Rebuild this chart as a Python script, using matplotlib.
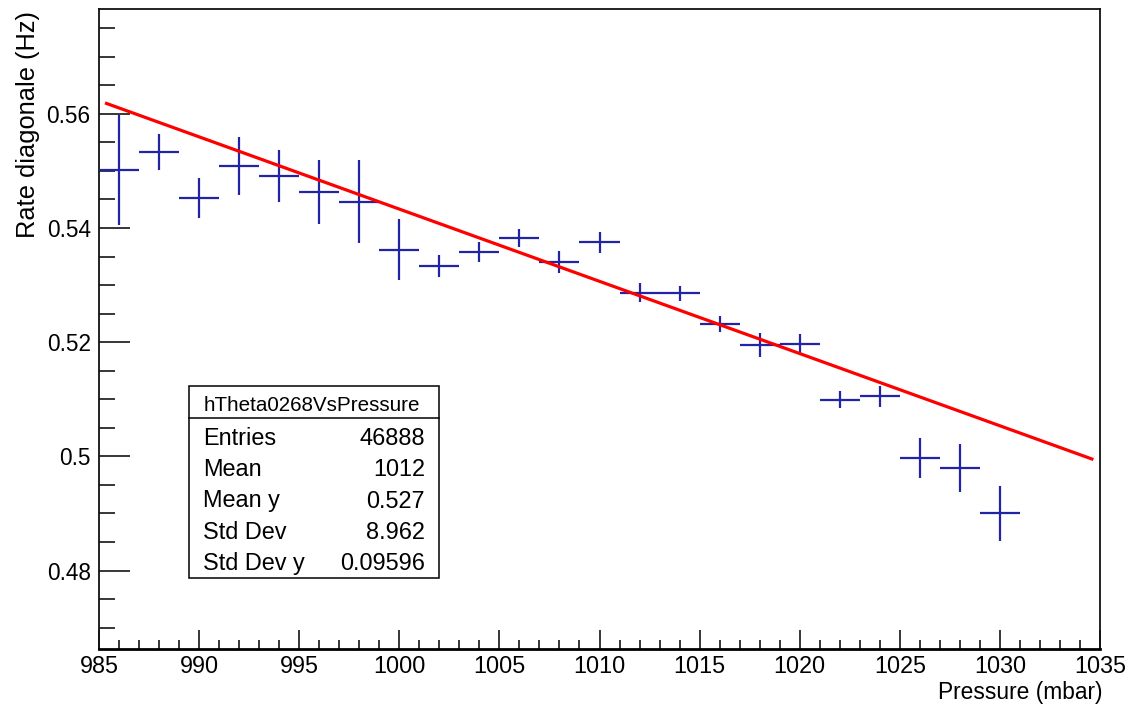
import matplotlib
matplotlib.use("Agg")
import matplotlib.pyplot as plt
import matplotlib.patches as mpatches
from matplotlib import font_manager
from matplotlib.ticker import MultipleLocator, FixedLocator
import numpy as np

# ---------------- data ----------------
pressure = [986, 988, 990, 992, 994, 996, 998, 1000, 1002, 1004, 1006, 1008,
            1010, 1012, 1014, 1016, 1018, 1020, 1022, 1024, 1026, 1028, 1030]
rate = [0.5501, 0.5533, 0.5453, 0.5508, 0.5491, 0.5463, 0.5446, 0.5362,
        0.5333, 0.5358, 0.5382, 0.5340, 0.5375, 0.5287, 0.5286, 0.5232,
        0.5195, 0.5197, 0.5099, 0.5105, 0.4998, 0.4979, 0.4900]
rate_err = [0.0096, 0.0031, 0.0035, 0.0051, 0.0046, 0.0056, 0.0073, 0.0053,
            0.0019, 0.0017, 0.0016, 0.0019, 0.0018, 0.0016, 0.0013, 0.0014,
            0.0021, 0.0018, 0.0015, 0.0018, 0.0035, 0.0042, 0.0048]
bin_half_width = 1.0

# linear fit: rate = fit_at_pivot + fit_slope * (p - fit_pivot)
fit_pivot = 1010.0
fit_at_pivot = 0.53066
fit_slope = -0.001265
fit_range = (985.3, 1034.67)

x_major = [985, 990, 995, 1000, 1005, 1010, 1015, 1020, 1025, 1030, 1035]
x_labels = [str(v) for v in x_major]
y_major = [0.48, 0.50, 0.52, 0.54, 0.56]
y_labels = ["0.48", "0.5", "0.52", "0.54", "0.56"]

stats_title = "hTheta0268VsPressure"
stats_names = ["Entries", "Mean", "Mean y", "Std Dev", "Std Dev y"]
stats_values = ["46888", "1012", "0.527", "8.962", "0.09596"]

x_title = "Pressure (mbar)"
y_title = "Rate diagonale (Hz)"

# ---------------- fonts ----------------
def has_font(name):
    try:
        font_manager.findfont(font_manager.FontProperties(family=name),
                              fallback_to_default=False)
        return True
    except Exception:
        return False

base_font = "Liberation Sans" if has_font("Liberation Sans") else "DejaVu Sans"
plt.rcParams["font.family"] = [base_font, "DejaVu Sans"]

# ---------------- figure ----------------
W, H = 1147, 707
fig = plt.figure(figsize=(W / 100, H / 100), dpi=100)
fig.patch.set_facecolor("white")

ax_l, ax_r, ax_t, ax_b = 99, 1100, 9, 649
ax = fig.add_axes([ax_l / W, 1 - ax_b / H, (ax_r - ax_l) / W, (ax_b - ax_t) / H])

blue = "#2323a6"
ax.errorbar(pressure, rate, xerr=bin_half_width, yerr=rate_err, fmt="none",
            ecolor=blue, elinewidth=1.6, capsize=0, zorder=3)

xf = np.linspace(fit_range[0], fit_range[1], 200)
yf = fit_at_pivot + fit_slope * (xf - fit_pivot)
ax.plot(xf, yf, color="#ff0000", lw=2.3, zorder=4, solid_capstyle="butt")

ax.set_xlim(985, 1035)
ax.set_ylim(0.46627, 0.57835)

ax.xaxis.set_major_locator(FixedLocator(x_major))
ax.set_xticklabels(x_labels)
ax.xaxis.set_minor_locator(MultipleLocator(1))
ax.yaxis.set_major_locator(FixedLocator(y_major))
ax.set_yticklabels(y_labels)
ax.yaxis.set_minor_locator(MultipleLocator(0.005))

ax.tick_params(axis="x", which="major", direction="in", length=13.7, width=1.1,
               pad=4.5, labelsize=16.8, top=False)
ax.tick_params(axis="x", which="minor", direction="in", length=6.8, width=1.1, top=False)
ax.tick_params(axis="y", which="major", direction="in", length=22.3, width=1.1,
               pad=6, labelsize=16.3, right=False)
ax.tick_params(axis="y", which="minor", direction="in", length=11.5, width=1.1, right=False)

for side in ["left", "top", "right"]:
    ax.spines[side].set_linewidth(1.3)
    ax.spines[side].set_color("#111111")
ax.spines["bottom"].set_linewidth(2.0)
ax.spines["bottom"].set_color("black")

# axis titles
ax.set_xlabel(x_title, fontsize=16.4, loc="right")
ax.xaxis.set_label_coords((1102 - ax_l) / (ax_r - ax_l), (ax_b - 692) / (ax_b - ax_t))
ax.xaxis.label.set_verticalalignment("center")
ax.xaxis.label.set_horizontalalignment("right")

ax.set_ylabel(y_title, fontsize=18.3)
ax.yaxis.set_label_coords((28 - ax_l) / (ax_r - ax_l), (ax_b - 124.5) / (ax_b - ax_t))
ax.yaxis.label.set_verticalalignment("center")
ax.yaxis.label.set_horizontalalignment("center")

# ---------------- stats box ----------------
def fx(px):
    return px / W

def fy(py):
    return 1 - py / H

bx0, bx1, by0, by1, bsep = 189.3, 439.3, 385.5, 578, 418
box = mpatches.Rectangle((fx(bx0), fy(by1)), fx(bx1) - fx(bx0), fy(by0) - fy(by1),
                         transform=fig.transFigure, facecolor="white",
                         edgecolor="black", lw=1.1, zorder=10)
fig.patches.append(box)
fig.add_artist(plt.Line2D([fx(bx0), fx(bx1)], [fy(bsep), fy(bsep)],
                          transform=fig.transFigure, color="black", lw=1.1, zorder=11))
fig.text(fx(312), fy(411), stats_title, ha="center", va="baseline",
         fontsize=14.9, zorder=12)
row_baselines = [445, 476.25, 507.5, 538.75, 570]
for name, val, yb in zip(stats_names, stats_values, row_baselines):
    fig.text(fx(202.7), fy(yb), name, ha="left", va="baseline", fontsize=16.9, zorder=12)
    fig.text(fx(425), fy(yb), val, ha="right", va="baseline", fontsize=16.9, zorder=12)

fig.savefig("out.png", dpi=100)
